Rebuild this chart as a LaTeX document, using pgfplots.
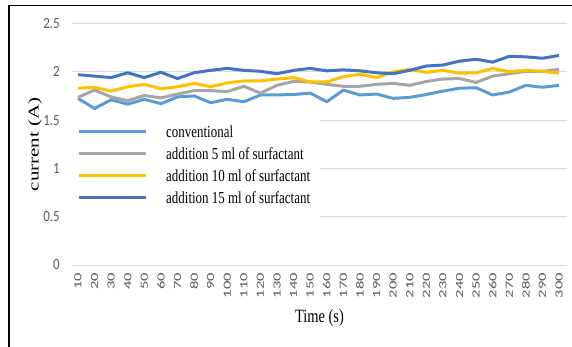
\documentclass[border=0pt]{standalone}
\usepackage{fontspec}
\setmainfont{Liberation Serif}
\newfontfamily\carlito{Carlito}
\usepackage{pgfplots}
\usepackage{pgfplotstable}
\pgfplotsset{compat=1.18}

\definecolor{cConv}{HTML}{5B9BD5}
\definecolor{cFive}{HTML}{A5A5A5}
\definecolor{cTen}{HTML}{FFC000}
\definecolor{cFifteen}{HTML}{4472C4}
\definecolor{gridgray}{HTML}{D9D9D9}
\definecolor{ticktext}{HTML}{595959}

% current (A) against time (s)
\pgfplotstableread{
t   conv   s5     s10    s15
10  1.725  1.735  1.830  1.970
20  1.620  1.810  1.840  1.955
30  1.710  1.740  1.800  1.940
40  1.665  1.700  1.845  1.990
50  1.715  1.755  1.870  1.940
60  1.670  1.730  1.825  1.995
70  1.740  1.770  1.845  1.930
80  1.750  1.805  1.880  1.990
90  1.680  1.805  1.845  2.015
100 1.715  1.795  1.885  2.035
110 1.690  1.850  1.905  2.015
120 1.760  1.780  1.905  2.005
130 1.760  1.860  1.925  1.980
140 1.765  1.900  1.940  2.015
150 1.780  1.895  1.895  2.035
160 1.690  1.870  1.895  2.010
170 1.810  1.850  1.950  2.020
180 1.760  1.850  1.975  2.010
190 1.770  1.870  1.940  1.990
200 1.725  1.880  2.000  1.980
210 1.735  1.860  2.025  2.015
220 1.765  1.900  1.995  2.060
230 1.800  1.925  2.015  2.070
240 1.830  1.930  1.985  2.110
250 1.835  1.890  1.990  2.130
260 1.760  1.955  2.035  2.100
270 1.790  1.980  2.000  2.160
280 1.860  2.005  2.015  2.155
290 1.840  2.005  2.005  2.140
300 1.860  2.025  1.985  2.170
}\currentdata

\begin{document}
\begin{tikzpicture}
\useasboundingbox (0,0) rectangle (572bp,347bp);
\begin{axis}[
  at={(72bp,82bp)}, anchor=south west,
  scale only axis, width=495bp, height=241.5bp,
  xmin=6.4, xmax=304.8, ymin=0, ymax=2.5,
  xtick={10,20,...,300},
  ytick={0,0.5,1,1.5,2,2.5},
  /pgf/number format/assume math mode=true,
  xticklabel={\scalebox{1.5}[1]{\pgfmathprintnumber{\tick}}},
  yticklabel={\scalebox{1}[1.2]{\pgfmathprintnumber{\tick}}},
  axis line style={draw=none},
  major tick length=0pt,
  ymajorgrids,
  grid style={gridgray, line width=0.9pt},
  xticklabel style={rotate=90, anchor=east, inner sep=0pt,
    font=\fontsize{11}{11}\carlito, text=ticktext},
  xticklabel shift=8bp,
  yticklabel style={anchor=east, inner sep=0pt,
    font=\fontsize{13}{13}\carlito, text=ticktext},
  yticklabel shift=12bp,
  every axis y label/.style={at={(axis description cs:0,0.5)}, xshift=-37bp,
    rotate=90, anchor=center, font=\fontsize{15}{15}\selectfont},
  every axis x label/.style={at={(axis description cs:0.5,0)}, yshift=-53bp,
    anchor=center, font=\fontsize{14.5}{14.5}\selectfont},
  ylabel={\scalebox{1.4}[1]{current (A)}},
  xlabel={\scalebox{1}[1.3]{Time (s)}},
  legend style={at={(axis description cs:-0.01,0.617)}, anchor=north west,
    draw=none, fill=white, inner xsep=10bp, inner ysep=12bp,
    font=\fontsize{13}{13}\selectfont,
    nodes={inner sep=0pt, text height=9bp, text depth=3bp},
    row sep=10bp, column sep=19bp},
  legend cell align=left,
  legend image code/.code={\draw[#1] (0bp,3bp) -- (67bp,3bp);},
  every axis plot/.append style={line width=3pt, line join=round},
]
\addplot[cConv] table[x=t, y=conv] {\currentdata};
\addlegendentry{\scalebox{1}[1.3]{conventional}}
\addplot[cFive] table[x=t, y=s5] {\currentdata};
\addlegendentry{\scalebox{1}[1.3]{addition 5 ml of surfactant}}
\addplot[cTen] table[x=t, y=s10] {\currentdata};
\addlegendentry{\scalebox{1}[1.3]{addition 10 ml of surfactant}}
\addplot[cFifteen] table[x=t, y=s15] {\currentdata};
\addlegendentry{\scalebox{1}[1.3]{addition 15 ml of surfactant}}
\end{axis}
% frame edges along the top and left of the figure
\draw[black, line width=1.6bp] (9bp,0bp) -- (9bp,341.5bp) -- (572bp,341.5bp);
\end{tikzpicture}
\end{document}
